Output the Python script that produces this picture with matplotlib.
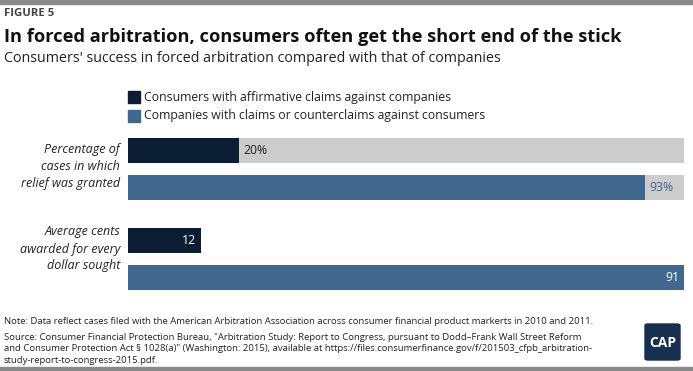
import matplotlib.pyplot as plt
from matplotlib.patches import FancyBboxPatch, Rectangle

# data
series = ["Consumers with affirmative claims against companies",
          "Companies with claims or counterclaims against consumers"]
pct_values = [20, 93]        # percentage of cases in which relief was granted
cents_values = [12, 91]      # average cents awarded for every dollar sought
pct_label = "Percentage of\ncases in which\nrelief was granted"
cents_label = "Average cents\nawarded for every\ndollar sought"

navy = "#0b1d33"
blue = "#41678e"
gray = "#cccccc"

W, H = 693, 371
plt.rcParams['font.family'] = ['Open Sans', 'DejaVu Sans']
fig = plt.figure(figsize=(W / 100, H / 100), dpi=100)


def fx(px):
    return px / W


def fy(py):
    return 1 - py / H


def add_ax(x0, x1, y0, y1):
    return fig.add_axes([fx(x0), fy(y1), fx(x1 - x0), (y1 - y0) / H])


# frame bars top and bottom
fig.patches.append(Rectangle((0, fy(4)), 1, 4 / H, transform=fig.transFigure,
                             color="#8a8a8a"))
fig.patches.append(Rectangle((0, 0), 1, 4 / H, transform=fig.transFigure,
                             color="#8a8a8a"))

fig.text(fx(4), fy(14), "FIGURE 5", fontsize=8.2, fontweight="bold",
         color="#444444", va="center")
fig.text(fx(4), fy(37), "In forced arbitration, consumers often get the short end of the stick",
         fontsize=13.15, fontweight="bold", color="#111111", va="center")
fig.text(fx(4), fy(59), "Consumers' success in forced arbitration compared with that of companies",
         fontsize=10.3, color="#222222", va="center")

# legend
for i, (name, c) in enumerate(zip(series, [navy, blue])):
    yc = 97 + i * 19
    fig.patches.append(Rectangle((fx(128), fy(yc + 6)), fx(12), 12 / H,
                                 transform=fig.transFigure, color=c))
    fig.text(fx(144), fy(yc), name, fontsize=8.8, color="#222222", va="center")

# percentage group
ax1 = add_ax(128, 684, 132, 206)
ypos = [0, 1]
ax1.barh(ypos, [100, 100], height=0.70, color=gray)
ax1.barh(ypos, pct_values, height=0.70, color=[navy, blue])
ax1.set_xlim(0, 100)
ax1.set_ylim(1.5, -0.5)
ax1.text(pct_values[0] + 0.7, 0, f"{pct_values[0]}%", va="center", ha="left",
         fontsize=8.8, color="#222222")
ax1.text(pct_values[1] + 0.7, 1, f"{pct_values[1]}%", va="center", ha="left",
         fontsize=8.8, color=blue)
ax1.axis("off")

# cents group
ax2 = add_ax(128, 684, 222, 296)
ax2.barh(ypos, cents_values, height=0.70, color=[navy, blue])
ax2.set_xlim(0, max(cents_values))
ax2.set_ylim(1.5, -0.5)
for y, v in zip(ypos, cents_values):
    ax2.text(v - 0.8, y, str(v), va="center", ha="right", fontsize=8.8, color="white")
ax2.axis("off")

fig.text(fx(120), fy(166), pct_label, fontsize=9, style="italic", ha="right",
         va="center", color="#222222", linespacing=1.4)
fig.text(fx(120), fy(249), cents_label, fontsize=9, style="italic", ha="right",
         va="center", color="#222222", linespacing=1.4)

# notes
fig.text(fx(4), fy(322), "Note: Data reflect cases filed with the American Arbitration Association "
         "across consumer financial product markerts in 2010 and 2011.",
         fontsize=6.8, color="#222222", va="center")
fig.text(fx(4), fy(333),
         "Source: Consumer Financial Protection Bureau, \"Arbitration Study: Report to Congress, "
         "pursuant to Dodd\u2013Frank Wall Street Reform\n"
         "and Consumer Protection Act \u00a7 1028(a)\" (Washington: 2015), available at "
         "https://files.consumerfinance.gov/f/201503_cfpb_arbitration-\n"
         "study-report-to-congress-2015.pdf.",
         fontsize=6.8, color="#222222", va="top", linespacing=1.35)

# CAP logo
fig.patches.append(FancyBboxPatch((fx(645), fy(360)), fx(35), 36 / H,
                                  boxstyle="round,pad=0,rounding_size=0.004",
                                  transform=fig.transFigure, color="#17304f"))
fig.text(fx(662.5), fy(343), "CAP", fontsize=10, fontweight="bold", color="white",
         ha="center", va="center")

fig.savefig("out.png", dpi=100)
